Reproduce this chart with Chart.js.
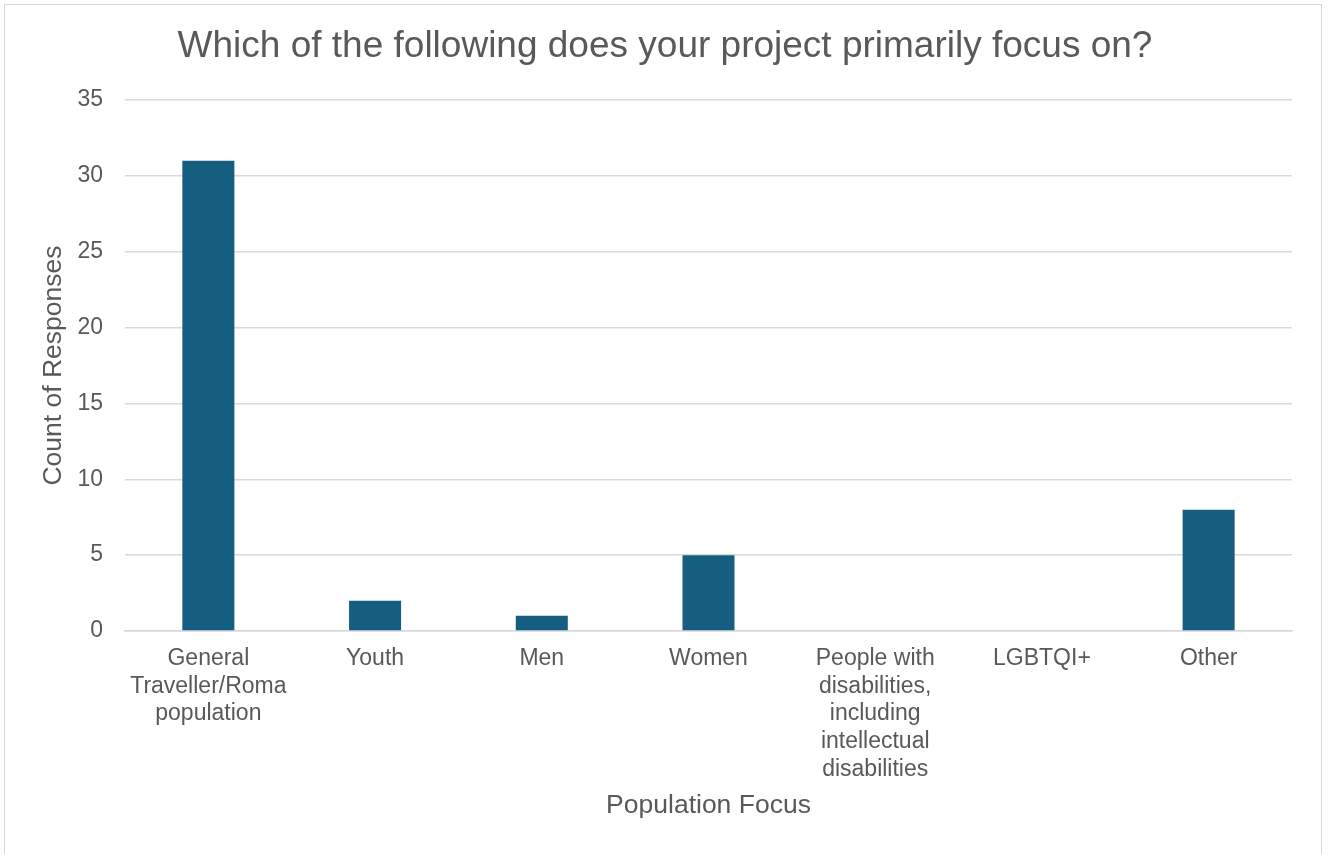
<!DOCTYPE html>
<html>
<head>
<meta charset="utf-8">
<script src="https://cdn.jsdelivr.net/npm/chart.js@4/dist/chart.umd.min.js"></script>
<style>
  body { margin: 0; background: #fff; }
  #frame { position: absolute; left: 4px; top: 4px; width: 1316px; height: 870px; border: 1px solid #d9d9d9; pointer-events: none; }
  #wrap { position: absolute; left: 0; top: 0; width: 1330px; height: 854px; }
</style>
</head>
<body>
<div id="wrap"><canvas id="mainChart"></canvas></div>
<div id="frame"></div>
<script>
// Chart data
const categories = [
    ["General", "Traveller/Roma", "population"],
    "Youth",
    "Men",
    "Women",
    ["People with", "disabilities,", "including", "intellectual", "disabilities"],
    "LGBTQI+",
    "Other"
];
const responseCounts = [31, 2, 1, 5, 0, 0, 8];
const yTicks = [0, 5, 10, 15, 20, 25, 30, 35];

const textGray = "#595959";
const gridGray = "#d9d9d9";
const font = "'Liberation Sans', Arial, sans-serif";

const ctx = document.getElementById("mainChart").getContext("2d");

new Chart(ctx, {
    type: "bar",
    data: {
        labels: categories,
        datasets: [{
            label: "Count of Responses",
            data: responseCounts,
            backgroundColor: "#165e80",
            categoryPercentage: 1,
            barPercentage: 0.312
        }]
    },
    options: {
        responsive: true,
        maintainAspectRatio: false,
        animation: false,
        layout: {
            padding: { top: 25, left: 38, right: 38, bottom: 20 }
        },
        plugins: {
            legend: { display: false },
            tooltip: { enabled: false },
            title: {
                display: true,
                text: "Which of the following does your project primarily focus on?",
                color: textGray,
                font: { family: font, size: 37, weight: "normal", lineHeight: 1.2 },
                padding: { top: 0, bottom: 30.6 }
            }
        },
        scales: {
            x: {
                grid: { display: false, drawTicks: false },
                border: { color: gridGray, width: 1.5 },
                ticks: {
                    color: textGray,
                    padding: 14,
                    maxRotation: 0,
                    autoSkip: false,
                    font: { family: font, size: 23, lineHeight: 1.2 }
                },
                title: {
                    display: true,
                    text: "Population Focus",
                    color: textGray,
                    font: { family: font, size: 26.5, lineHeight: 1.2 },
                    padding: { top: 0, bottom: 12 }
                },
                afterFit: (scale) => { scale.height = 854 - 20 - 631; }
            },
            y: {
                min: 0,
                max: 35,
                afterBuildTicks: (scale) => { scale.ticks = yTicks.map(v => ({ value: v })); },
                grid: { color: gridGray, lineWidth: 1.5, drawTicks: false },
                border: { display: false },
                ticks: {
                    color: textGray,
                    padding: 22,
                    font: { family: font, size: 23 }
                },
                title: {
                    display: true,
                    text: "Count of Responses",
                    color: textGray,
                    font: { family: font, size: 26.5, lineHeight: 1.2 },
                    padding: { top: 0, bottom: 0 }
                },
                afterFit: (scale) => { scale.width = 125 - 38; }
            }
        }
    }
});
</script>
</body>
</html>
